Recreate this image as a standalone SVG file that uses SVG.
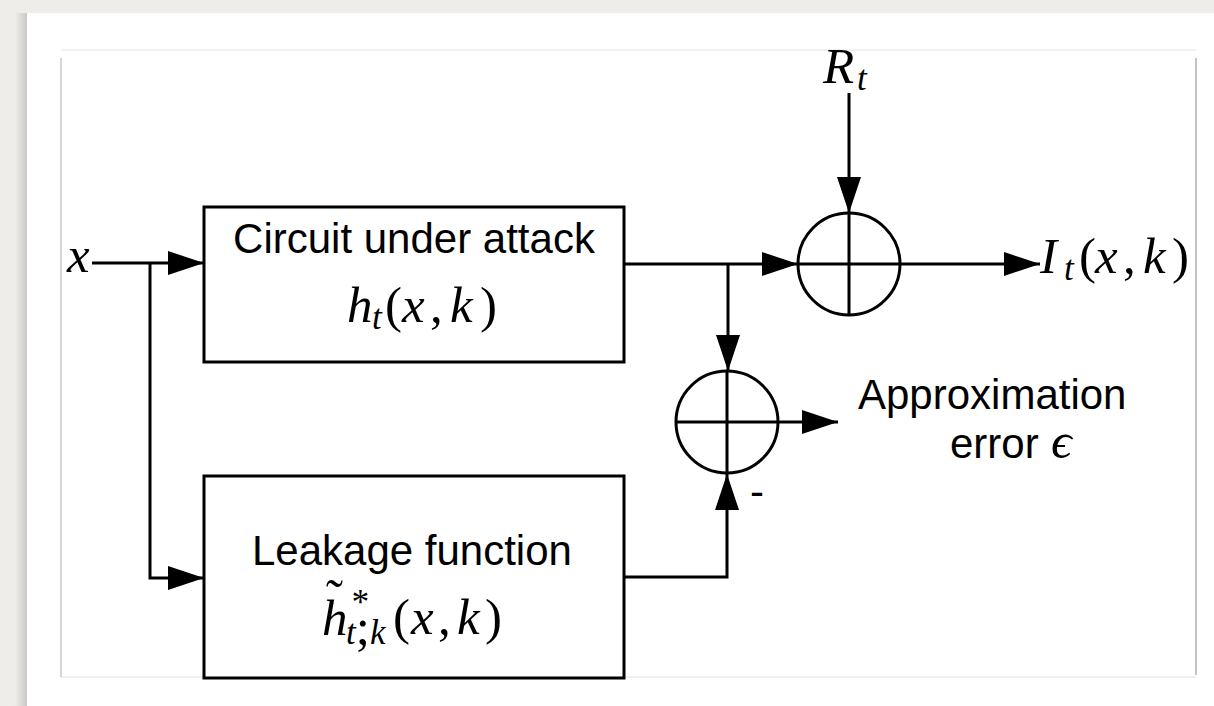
<svg xmlns="http://www.w3.org/2000/svg" width="1214" height="706" viewBox="0 0 1214 706">
  <defs>
    <style>
      .ln { fill: none; stroke: #000; stroke-width: 3; }
      .blk { fill: #fff; stroke: #000; stroke-width: 3; }
      .lbl { font-family: "Liberation Sans", Arial, sans-serif; font-size: 42px; fill: #000; }
      .mi { font-family: "Liberation Serif", "Times New Roman", serif; font-style: italic; font-size: 51px; fill: #000; }
      .mu { font-family: "Liberation Serif", "Times New Roman", serif; font-style: normal; font-size: 51px; fill: #000; }
      .sub { font-size: 35px; }
    </style>
    <marker id="ah" viewBox="0 0 36 24" refX="36" refY="12" markerWidth="36" markerHeight="24" orient="auto" markerUnits="userSpaceOnUse">
      <path d="M0,0 L36,12 L0,24 Z" fill="#000"/>
    </marker>
    <linearGradient id="shade" x1="0" y1="0" x2="1" y2="0">
      <stop offset="0" stop-color="#eeede9"/>
      <stop offset="1" stop-color="#c9c8c5"/>
    </linearGradient>
  </defs>

  <!-- page backdrop and sheet -->
  <rect x="0" y="0" width="1214" height="706" fill="#eeede9"/>
  <rect x="15" y="13" width="12" height="693" fill="url(#shade)"/>
  <rect x="27" y="13" width="1187" height="693" fill="#fff"/>

  <!-- figure frame -->
  <g id="frame">
    <line x1="61" y1="50" x2="1196" y2="50" stroke="#f2f2f2" stroke-width="2"/>
    <line x1="61" y1="677" x2="1196" y2="677" stroke="#f0f0f0" stroke-width="2"/>
    <line x1="61" y1="58" x2="61" y2="677" stroke="#d6d6d6" stroke-width="2"/>
    <line x1="1196" y1="58" x2="1196" y2="675" stroke="#c4c4c4" stroke-width="2"/>
  </g>

  <!-- connectors -->
  <g id="connectors">
    <path class="ln" d="M92,263 H204" marker-end="url(#ah)"/>
    <path class="ln" d="M150,263 V578 H204" marker-end="url(#ah)"/>
    <path class="ln" d="M624,264 H798" marker-end="url(#ah)"/>
    <path class="ln" d="M728,264 V371" marker-end="url(#ah)"/>
    <path class="ln" d="M849,93 V213" marker-end="url(#ah)"/>
    <path class="ln" d="M900,264 H1040" marker-end="url(#ah)"/>
    <path class="ln" d="M624,577 H727 V474" marker-end="url(#ah)"/>
    <path class="ln" d="M778,422 H838" marker-end="url(#ah)"/>
  </g>

  <!-- input -->
  <g id="input-x">
    <text class="mi" x="67" y="272">x</text>
  </g>

  <!-- circuit block -->
  <g id="circuit">
    <rect class="blk" x="204" y="207" width="420" height="155"/>
    <text class="lbl" x="414" y="253" text-anchor="middle">Circuit under attack</text>
    <text class="mi" y="322"><tspan x="347">h</tspan><tspan class="sub" x="372" dy="7">t</tspan><tspan class="mu" x="385" dy="-7">(</tspan><tspan x="402">x</tspan><tspan class="mu" x="430">,</tspan><tspan x="450">k</tspan><tspan class="mu" x="480">)</tspan></text>
  </g>

  <!-- leakage model block -->
  <g id="leakage">
    <rect class="blk" x="204" y="476" width="420" height="202"/>
    <text class="lbl" x="252" y="565">Leakage function</text>
    <text class="mu" x="326" y="615" font-size="30">˜</text>
    <text class="mi" x="322" y="635">h</text>
    <text class="mi sub" x="350" y="614">*</text>
    <text class="mi sub" x="346" y="644">t<tspan class="mu">;</tspan>k</text>
    <text class="mi" y="634"><tspan class="mu" x="393">(</tspan><tspan x="411">x</tspan><tspan class="mu" x="438">,</tspan><tspan x="457">k</tspan><tspan class="mu" x="485">)</tspan></text>
  </g>

  <!-- noise input -->
  <g id="noise-r">
    <text class="mi" y="83"><tspan x="823">R</tspan><tspan class="sub" x="857" dy="7">t</tspan></text>
  </g>

  <!-- summing junction: measured leakage -->
  <g id="sum-top">
    <circle class="ln" cx="849" cy="264" r="51"/>
    <line class="ln" x1="798" y1="264" x2="900" y2="264"/>
    <line class="ln" x1="849" y1="213" x2="849" y2="315"/>
  </g>

  <!-- summing junction: approximation error -->
  <g id="sum-bottom">
    <circle class="ln" cx="727" cy="422" r="51"/>
    <line class="ln" x1="676" y1="422" x2="778" y2="422"/>
    <line class="ln" x1="727" y1="371" x2="727" y2="473"/>
    <text class="lbl" x="750" y="506">-</text>
  </g>

  <!-- output -->
  <g id="output-i">
    <text class="mi" y="273"><tspan x="1040">I</tspan><tspan class="sub" x="1064" dy="7">t</tspan><tspan class="mu" x="1079" dy="-7">(</tspan><tspan x="1095">x</tspan><tspan class="mu" x="1123">,</tspan><tspan x="1143">k</tspan><tspan class="mu" x="1172">)</tspan></text>
  </g>

  <!-- error label -->
  <g id="error-label">
    <text class="lbl" x="858" y="409">Approximation</text>
    <text class="lbl" x="950" y="458">error</text>
    <text class="mi" x="1051" y="458" font-size="46">ϵ</text>
  </g>
</svg>
